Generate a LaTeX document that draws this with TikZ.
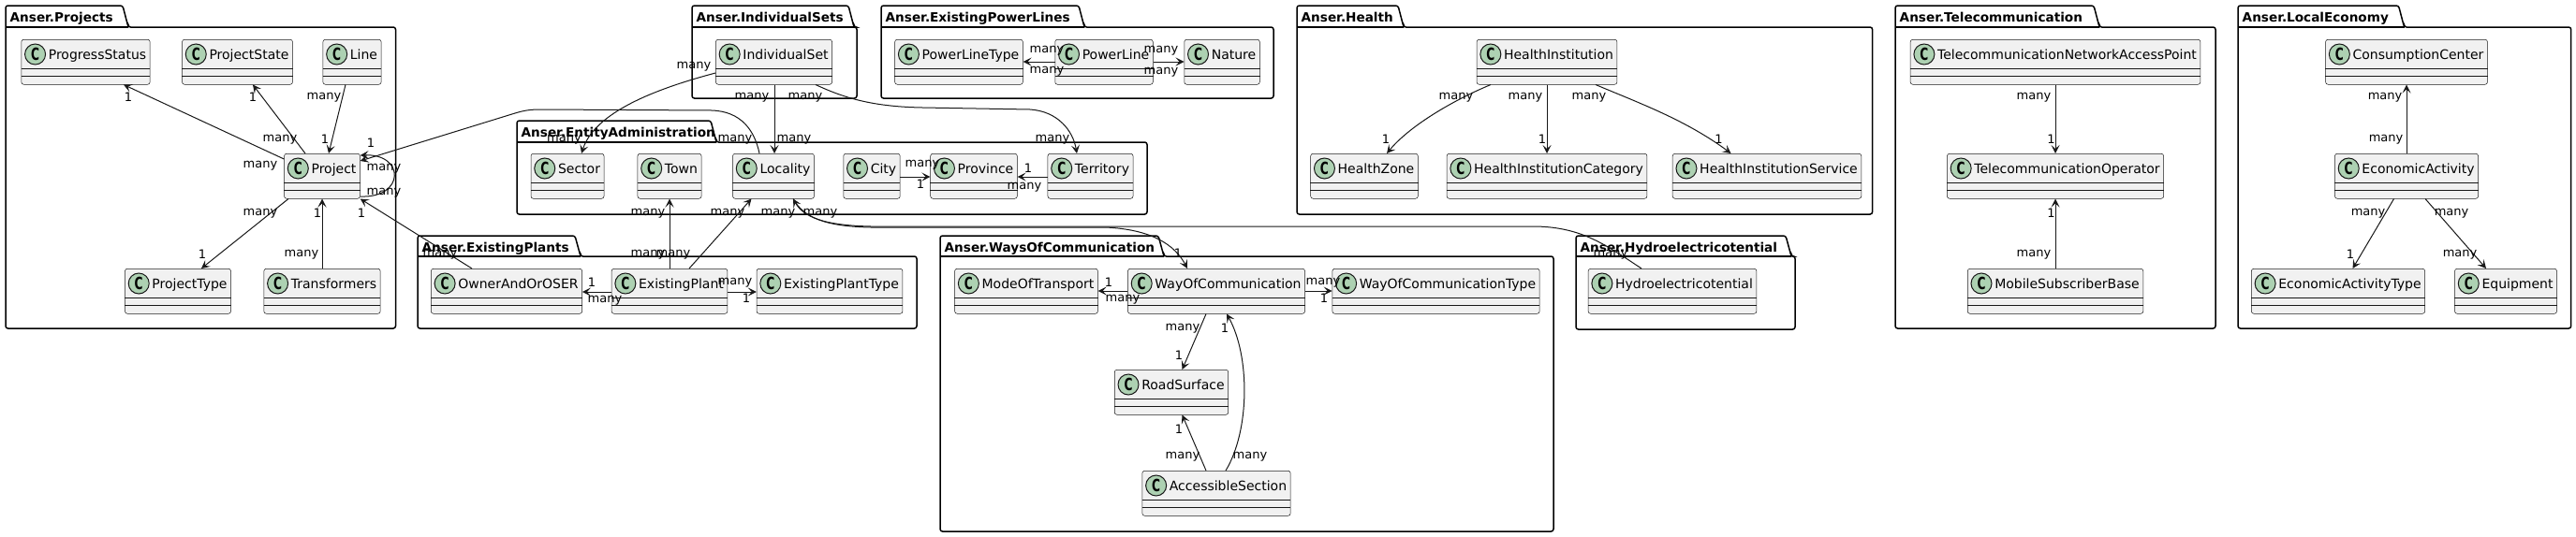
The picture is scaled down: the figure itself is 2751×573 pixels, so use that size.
\documentclass[tikz,border=0pt]{standalone}
\usepackage{fontspec}
\usepackage{graphicx}
\setmainfont{DejaVu Sans}
\usetikzlibrary{arrows.meta,calc}
\definecolor{clsfill}{HTML}{F1F1F1}
\definecolor{clsline}{HTML}{181818}
\definecolor{circfill}{HTML}{ADD1B2}
\tikzset{
 clsbox/.style={draw=clsline, line width=0.5pt, fill=clsfill, rounded corners=2.5pt, anchor=north,
   inner xsep=0pt, inner ysep=0pt, text height=21pt, text depth=27pt, font=\fontsize{14pt}{16pt}\selectfont},
 sepline/.style={draw=clsline, line width=0.5pt},
 circ/.style={circle, draw=clsline, line width=1pt, fill=circfill, minimum size=22pt, inner sep=0pt,
   font=\fontsize{18pt}{18pt}\selectfont\bfseries},
 pkgline/.style={draw=black, line width=1.5pt, rounded corners=2.5pt},
 pkgtitle/.style={anchor=base west, inner sep=0pt, font=\fontsize{13.6pt}{16pt}\selectfont\bfseries},
 assoc/.style={draw=clsline, line width=1pt, -{Stealth[length=9pt,width=9pt,inset=4pt]}},
 lbl/.style={inner sep=0pt, font=\fontsize{13pt}{15pt}\selectfont},
}
\newcommand\cls[4]{%
 \node[clsbox] (#1) at (#2,#3) {\hspace*{29pt}#4\hspace*{4pt}};
 \draw[sepline] ([yshift=-31pt]#1.north west) -- ([yshift=-31pt]#1.north east);
 \draw[sepline] ([yshift=-39pt]#1.north west) -- ([yshift=-39pt]#1.north east);
 \node[circ] (#1-c) at ([xshift=15pt,yshift=-16pt]#1.north west) {\scalebox{0.68}[1]{C}};
}
\newcommand\pkg[8]{%
 \draw[pkgline] (#5,#4) -- (#6,#4) -- (#6,#7) -- (#2,#7) -- (#2,#3) -- (#5-6,#3) -- (#5,#4) -- cycle;
 \draw[pkgline] (#2,#4) -- (#5,#4);
 \node[pkgtitle] (#1) at (#2+4.5,#3+17) {#8};
}
\newcommand\lb[4]{\node[lbl] (#1) at (#2,#3) {#4};}
\begin{document}
\begin{tikzpicture}[x=1pt,y=-1pt]
\fill[white] (0,0) rectangle (2751,573);
\useasboundingbox (0,0) rectangle (2751,573);
% packages
\pkg{pProjects}{6}{6}{29}{137}{422.5}{351}{Anser.Projects}
\pkg{pIndSets}{739}{6}{29}{912}{915}{105}{Anser.IndividualSets}
\pkg{pPower}{941}{6}{29}{1158}{1360}{105}{Anser.ExistingPowerLines}
\pkg{pEntity}{552}{129}{152}{765}{1225}{229}{Anser.EntityAdministration}
\pkg{pPlants}{446}{252}{274}{620}{979}{351}{Anser.ExistingPlants}
\pkg{pWays}{1004}{252}{274}{1243}{1659}{568}{Anser.WaysOfCommunication}
\pkg{pHealth}{1385}{6}{29}{1499}{1999.6}{229}{Anser.Health}
\pkg{pHydro}{1683}{252}{274}{1913}{1917}{352}{Anser.Hydroelectricotential}
\pkg{pTele}{2024}{6}{29}{2242}{2366}{351}{Anser.Telecommunication}
\pkg{pEco}{2390}{6}{29}{2567.5}{2745.7}{351}{Anser.LocalEconomy}
% classes
\cls{progress}{91.5}{42}{ProgressStatus}
\cls{projstate}{253.5}{42}{ProjectState}
\cls{lineC}{376}{42}{Line}
\cls{project}{344}{164}{Project}
\cls{projtype}{190}{287}{ProjectType}
\cls{transf}{344}{287}{Transformers}
\cls{indset}{826.5}{42}{IndividualSet}
\cls{sector}{606}{164}{Sector}
\cls{town}{715}{164}{Town}
\cls{locality}{826}{164}{Locality}
\cls{city}{931}{164}{City}
\cls{province}{1040}{164}{Province}
\cls{territory}{1164.5}{164}{Territory}
\cls{owner}{541}{287}{OwnerAndOrOSER}
\cls{explant}{715}{287}{ExistingPlant}
\cls{explanttype}{886}{287}{ExistingPlantType}
\cls{pltype}{1024}{42}{PowerLineType}
\cls{pline}{1179}{42}{PowerLine}
\cls{nature}{1305}{42}{Nature}
\cls{mode}{1096}{287}{ModeOfTransport}
\cls{woc}{1299}{287}{WayOfCommunication}
\cls{woctype}{1533.5}{287}{WayOfCommunicationType}
\cls{road}{1251}{395}{RoadSurface}
\cls{access}{1299}{503}{AccessibleSection}
\cls{hi}{1652}{42}{HealthInstitution}
\cls{hz}{1457}{164}{HealthZone}
\cls{hic}{1652}{164}{HealthInstitutionCategory}
\cls{his}{1887}{164}{HealthInstitutionService}
\cls{hydro}{1786}{287}{Hydroelectricotential}
\cls{tnap}{2195}{42}{TelecommunicationNetworkAccessPoint}
\cls{telop}{2195}{164}{TelecommunicationOperator}
\cls{msb}{2195}{287}{MobileSubscriberBase}
\cls{cc}{2570}{42}{ConsumptionCenter}
\cls{ea}{2570}{164}{EconomicActivity}
\cls{eat}{2497}{287}{EconomicActivityType}
\cls{equip}{2676}{287}{Equipment}
% connectors: Projects
\draw[assoc] ([yshift=-6pt]project.north west) -- ([xshift=40.5pt]progress.south);
\draw[assoc] ([xshift=-18pt]project.north) -- ([xshift=16.5pt]projstate.south);
\draw[assoc] ([xshift=-7pt]lineC.south) -- ([xshift=7pt]project.north);
\draw[assoc] ([xshift=-36pt]project.south) -- ([xshift=25pt]projtype.north);
\draw[assoc] (transf.north) -- (project.south);
\draw[assoc] ([xshift=-37pt]owner.north) -- (project.south east);
\draw[assoc] ([yshift=-46pt]project.north east) .. controls +(48,2) and +(48,-2) .. ([yshift=-2pt]project.north east);
\draw[assoc] ([xshift=-15pt]locality.north) .. controls (806,140) and (792,119) .. (760,118) -- (578,117)
  .. controls (566,117) and (560,118) .. (550,121) -- ([yshift=-8pt]project.north east);
% IndividualSets
\draw[assoc] ([yshift=-36pt]indset.north west) .. controls (700,95) and (635,120) .. ([xshift=15pt]sector.north);
\draw[assoc] ([xshift=0.5pt]indset.south) -- ([xshift=1pt]locality.north);
\draw[assoc] ([xshift=44.5pt]indset.south) .. controls (900,104) and (930,114) .. (985,115) -- (1100,117)
  .. controls (1130,119) and (1146,140) .. ([xshift=-14.5pt]territory.north);
% EntityAdministration
\draw[assoc] ([yshift=-25pt]city.north east) -- ([yshift=-25pt]province.north west);
\draw[assoc] ([yshift=-25pt]territory.north west) -- ([yshift=-25pt]province.north east);
% ExistingPlants
\draw[assoc] (explant.north) -- (town.south);
\draw[assoc] ([xshift=21pt]explant.north) -- ([xshift=-23.5pt]locality.south);
\draw[assoc] ([yshift=-25pt]explant.north west) -- ([yshift=-25pt]owner.north east);
\draw[assoc] ([yshift=-25pt]explant.north east) -- ([yshift=-25pt]explanttype.north west);
% PowerLines
\draw[assoc] ([yshift=-24pt]pline.north west) -- ([yshift=-24pt]pltype.north east);
\draw[assoc] ([yshift=-24pt]pline.north east) -- ([yshift=-24pt]nature.north west);
% long curves
\draw[assoc] ([xshift=-33pt]hydro.north) .. controls (1715,262) and (1690,243) .. (1640,242) -- (930,242)
  .. controls (880,241) and (858,232) .. ([xshift=21pt]locality.south);
\draw[assoc] ([xshift=21pt]locality.south) .. controls (858,232) and (880,242) .. (930,243) -- (1180,243)
  .. controls (1230,245) and (1255,262) .. ([xshift=-31pt]woc.north);
% WaysOfCommunication
\draw[assoc] ([yshift=-24pt]woc.north west) -- ([yshift=-24pt]mode.north east);
\draw[assoc] ([yshift=-24pt]woc.north east) -- ([yshift=-24pt]woctype.north west);
\draw[assoc] ([xshift=-11pt]woc.south) -- ([xshift=11.5pt]road.north);
\draw[assoc] ([xshift=-11pt]access.north) -- ([xshift=11.5pt]road.south);
\draw[assoc] ([xshift=10pt]access.north) .. controls (1335,460) and (1335,380) .. ([xshift=11pt]woc.south);
% Health
\draw[assoc] ([xshift=-60pt]hi.south) .. controls (1550,108) and (1505,135) .. ([xshift=24pt]hz.north);
\draw[assoc] (hi.south) -- (hic.north);
\draw[assoc] ([xshift=52pt]hi.south) .. controls (1750,110) and (1800,128) .. ([xshift=-38.4pt]his.north);
% Telecommunication
\draw[assoc] (tnap.south) -- (telop.north);
\draw[assoc] (msb.north) -- (telop.south);
% LocalEconomy
\draw[assoc] (ea.north) -- (cc.south);
\draw[assoc] ([xshift=-13.5pt]ea.south) -- ([xshift=15.5pt]eat.north);
\draw[assoc] ([xshift=20pt]ea.south) -- ([xshift=-21pt]equip.north);
% labels
\lb{a1}{137}{104}{1} \lb{a2}{278}{177}{many}
\lb{a3}{270}{104}{1} \lb{a4}{299}{149}{many}
\lb{a5}{346}{104}{many} \lb{a6}{347}{149}{1}
\lb{a7}{278}{228}{many} \lb{a8}{216}{272}{1}
\lb{a9}{339}{228}{1} \lb{a10}{322}{272}{many}
\lb{a11}{386}{228}{1} \lb{a12}{470}{272}{many}
\lb{a13}{396}{153}{1} \lb{a14}{410}{180}{many} \lb{a15}{410}{206}{many}
\lb{a16}{785}{149}{many}
\lb{b1}{741}{71}{many} \lb{b2}{602.5}{149}{many}
\lb{b3}{803}{104}{many} \lb{b4}{848}{149}{many}
\lb{b5}{860}{104}{many} \lb{b6}{1124}{149}{many}
\lb{c1}{985}{176}{many} \lb{c2}{983}{197}{1}
\lb{c3}{1098}{180}{1} \lb{c4}{1094}{200}{many}
\lb{d1}{692}{228}{many} \lb{d2}{692}{272}{many}
\lb{d3}{777}{228}{many} \lb{d4}{719}{272}{many}
\lb{d5}{632}{302}{1} \lb{d6}{646}{321}{many}
\lb{d7}{785}{302}{many} \lb{d8}{797}{319}{1}
\lb{e1}{1118}{54}{many} \lb{e2}{1118}{76}{many}
\lb{e3}{1240}{54}{many} \lb{e4}{1240}{77}{many}
\lb{f1}{1720}{272}{many} \lb{f2}{876}{228}{many} \lb{f3}{831}{228}{many} \lb{f4}{1258}{271}{1}
\lb{g1}{1184}{302}{1} \lb{g2}{1199}{320}{many}
\lb{g3}{1413}{302}{many} \lb{g4}{1414}{319}{1}
\lb{g5}{1263}{351}{many} \lb{g6}{1259}{380}{1}
\lb{g7}{1259}{459}{1} \lb{g8}{1263}{488}{many}
\lb{g9}{1308}{351}{1} \lb{g10}{1335}{488}{many}
\lb{h1}{1555}{104}{many} \lb{h2}{1480}{149}{1}
\lb{h3}{1629}{104}{many} \lb{h4}{1647}{149}{1}
\lb{h5}{1697}{104}{many} \lb{h6}{1835.5}{149}{1}
\lb{i1}{2172}{104}{many} \lb{i2}{2190.6}{149}{1}
\lb{i3}{2190.6}{228}{1} \lb{i4}{2172}{272}{many}
\lb{j1}{2547}{104}{many} \lb{j2}{2548}{149}{many}
\lb{j3}{2529}{228}{many} \lb{j4}{2510}{272}{1}
\lb{j5}{2618}{228}{many} \lb{j6}{2627}{272}{many}
\end{tikzpicture}
\end{document}
